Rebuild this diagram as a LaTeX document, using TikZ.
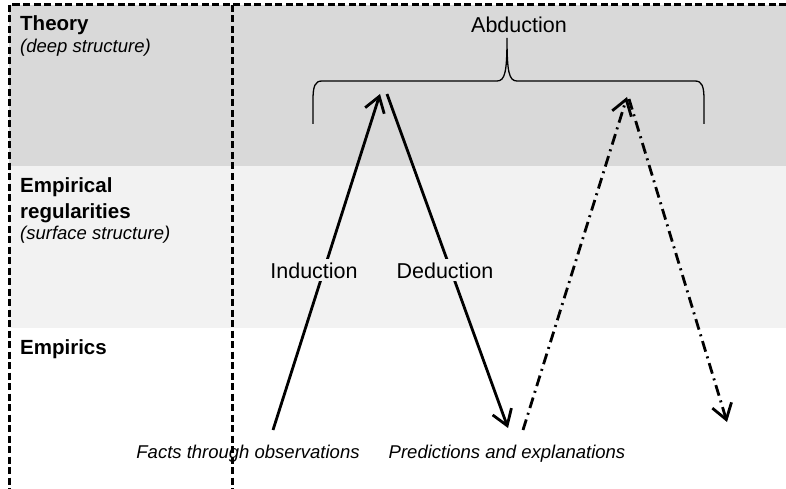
\documentclass[tikz,border=0pt]{standalone}
\usepackage{fontspec}
\setmainfont{Liberation Sans}
\usetikzlibrary{arrows.meta}
\definecolor{deepgrey}{HTML}{D9D9D9}
\definecolor{surfgrey}{HTML}{F2F2F2}
\begin{document}
\begin{tikzpicture}[x=1pt,y=-1pt,
  frame/.style={line width=3pt, dash pattern=on 7pt off 3.5pt},
  flow/.style={line width=2.8pt, -{Straight Barb[length=15pt,width=20pt]}},
  guess/.style={flow, dash pattern=on 11pt off 5pt on 2pt off 5pt},
  levelname/.style={anchor=base west, font=\fontsize{20.5}{24}\selectfont\bfseries, inner sep=0pt},
  levelnote/.style={anchor=base west, font=\fontsize{18.5}{22}\selectfont\itshape, inner sep=0pt},
  stepname/.style={anchor=base, font=\fontsize{21.5}{25}\selectfont, inner sep=3pt},
  endnote/.style={anchor=base, font=\fontsize{18.5}{22}\selectfont\itshape, inner sep=0pt}]
\useasboundingbox (0,0) rectangle (786,489);

% level bands
\fill[deepgrey] (9,5) rectangle (786,166);
\fill[surfgrey] (9,166) rectangle (786,328);

% dashed frame and column divider
\draw[frame] (786,5) -- (9,5) -- (9,489);
\draw[frame] (232,5) -- (232,489);

% level names
\node[levelname] (theory) at (20,31) {Theory};
\node[levelnote] (deep) at (20,53) {(deep structure)};
\node[levelname] (emp1) at (20,193) {Empirical};
\node[levelname] (emp2) at (20,218) {regularities};
\node[levelnote] (surf) at (20,239) {(surface structure)};
\node[levelname] (empirics) at (20,354) {Empirics};

% end points of the reasoning paths
\coordinate (facts) at (273,430);
\coordinate (indtop) at (380,94);
\coordinate (dedtop) at (387,94);
\coordinate (pred) at (508,428);
\coordinate (abdstart) at (523,430);
\coordinate (abdtop) at (627,97);
\coordinate (abdtop2) at (629,99);
\coordinate (abdend) at (727,422);

% induction and deduction
\draw[flow] (facts) -- (indtop);
\draw[flow] (dedtop) -- (pred);
\node[stepname, fill=surfgrey] (ind) at (314,278) {Induction};
\node[stepname, fill=surfgrey] (ded) at (445,278) {Deduction};

% abduction cycle
\draw[guess] (abdstart) -- (abdtop);
\draw[guess] (abdtop2) -- (abdend);

% brace over the theory level
\draw[line width=1.3pt]
  (313,124) -- (313,100) .. controls (313,86) and (315,81) .. (322,81)
  -- (497,81) .. controls (505,81) and (507,72) .. (507,38)
  .. controls (507,72) and (509,81) .. (517,81)
  -- (695,81) .. controls (702,81) and (704,86) .. (704,100) -- (704,124);
\node[stepname, inner sep=0pt] (abd) at (519,33) {Abduction};

% bottom notes
\node[endnote] (factsnote) at (248,458) {Facts through observations};
\node[endnote] (prednote) at (507,458) {Predictions and explanations};
\end{tikzpicture}
\end{document}
